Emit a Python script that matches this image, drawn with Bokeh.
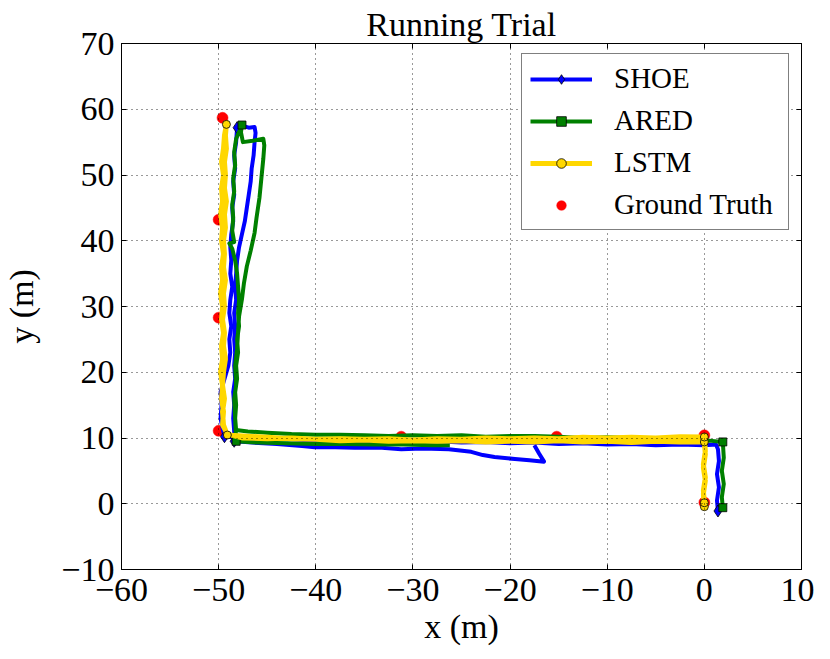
from bokeh.plotting import figure
from bokeh.models import FixedTicker, LinearAxis, Legend, LegendItem, Range1d
from bokeh.embed import file_html
from bokeh.resources import INLINE

# ---------------- data (metres) ----------------
title_text = "Running Trial"
x_label = "x (m)"
y_label = "y (m)"
x_ticks = [-60, -50, -40, -30, -20, -10, 0, 10]
x_tick_labels = ["\u221260", "\u221250", "\u221240", "\u221230", "\u221220", "\u221210", "0", "10"]
y_ticks = [-10, 0, 10, 20, 30, 40, 50, 60, 70]
y_tick_labels = ["\u221210", "0", "10", "20", "30", "40", "50", "60", "70"]

# SHOE trajectory
shoe_x = [1.4, 1.3, 1.5, 1.3, 1.5, 1.4, 1.2,
          0.0, -2.5, -5.0, -7.5, -10.0, -12.5, -15.0, -17.5, -20.0, -22.5, -25.0, -27.5, -30.0,
          -32.5, -35.0, -37.5, -40.0, -42.5, -45.0, -47.0, -49.4,
          -49.6, -49.8, -49.7, -49.8, -49.4, -49.0, -48.8, -48.9, -48.7, -48.9, -48.8, -48.6,
          -48.8, -48.7, -48.8, -48.7, -48.5, -48.6, -48.4, -48.5, -48.3, -48.4, -48.2, -48.1,
          -47.6, -46.9, -46.3, -46.2,
          -46.3, -46.4, -46.6, -46.7, -46.9, -47.1, -47.3, -47.6, -47.9, -48.1, -48.2, -48.3,
          -48.2, -48.4, -48.3, -48.4, -48.3, -48.4, -48.3, -48.5, -48.4, -48.5, -48.4, -48.4,
          -46.5, -44.0, -41.4, -40.1, -38.0, -36.0, -33.2, -31.2, -29.0, -26.3, -24.0, -22.8,
          -21.6, -19.5, -18.0, -16.5, -17.0, -17.5]
shoe_y = [-1.1, 0.5, 2.5, 4.5, 6.5, 8.3, 9.0,
          8.9, 9.0, 8.9, 9.1, 9.0, 9.2, 9.1, 9.3, 9.2, 9.4, 9.3, 9.5, 9.4,
          9.6, 9.5, 9.7, 9.6, 9.8, 9.9, 10.0, 10.2,
          11.5, 13.0, 15.0, 17.0, 19.0, 21.0, 23.0, 25.0, 27.0, 29.0, 31.0, 33.0,
          35.0, 37.0, 39.0, 41.0, 43.0, 45.0, 47.0, 49.0, 51.0, 53.0, 55.0, 57.2,
          57.5, 57.2, 57.3, 56.4,
          55.0, 53.0, 51.0, 49.0, 47.0, 45.0, 43.0, 41.0, 39.0, 37.0, 35.0, 33.0,
          31.0, 29.0, 27.0, 25.0, 23.0, 21.0, 19.0, 17.0, 15.0, 13.0, 11.0, 9.5,
          9.3, 9.1, 8.8, 8.6, 8.6, 8.5, 8.5, 8.3, 8.4, 8.3, 7.9, 7.4,
          7.1, 6.8, 6.6, 6.4, 7.6, 8.9]
shoe_mark_x = [1.4, -49.4, -48.1, -48.4]
shoe_mark_y = [-1.1, 10.2, 57.2, 9.5]

# ARED trajectory
ared_x = [1.9, 1.8, 2.0, 1.8, 2.0, 1.9,
          0.5, -2.5, -5.0, -7.5, -10.0, -12.5, -15.0, -17.5, -20.0, -22.5, -25.0, -27.5, -30.0,
          -32.5, -35.0, -37.5, -40.0, -42.5, -45.0, -47.0, -48.2,
          -48.3, -48.2, -48.3, -48.1, -48.2, -48.0, -48.1, -47.9, -48.0, -47.9, -48.0, -48.1,
          -48.3, -48.6, -48.9, -48.4, -48.6, -48.5, -48.6, -48.4, -48.5, -48.3, -48.4, -48.2, -47.6,
          -47.7, -47.5, -46.5, -45.4, -45.3,
          -45.4, -45.6, -45.8, -46.1, -46.3, -46.7, -47.1, -47.4, -47.6, -47.9, -48.0, -48.1,
          -48.3, -48.2, -48.4, -48.3, -48.2,
          -46.0, -43.0, -40.0, -37.0, -34.0, -31.0, -28.0, -26.2]
ared_y = [-0.6, 1.0, 3.0, 5.0, 7.0, 9.4,
          9.6, 9.8, 9.9, 10.0, 10.1, 10.0, 10.2, 10.3, 10.3, 10.2, 10.4, 10.3, 10.4,
          10.3, 10.4, 10.5, 10.5, 10.6, 10.8, 11.0, 11.2,
          13.0, 15.0, 17.0, 19.0, 21.0, 23.0, 25.0, 27.0, 29.0, 31.0, 33.0, 35.0,
          37.0, 38.8, 39.6, 39.8, 41.5, 43.5, 45.5, 47.5, 49.5, 51.5, 53.5, 55.5, 57.6,
          56.5, 55.0, 55.2, 55.5, 54.5,
          52.5, 49.5, 46.5, 43.5, 41.2, 38.5, 36.1, 33.5, 31.1, 28.5, 26.1, 23.5,
          20.9, 18.0, 15.9, 13.0, 9.5,
          9.3, 9.2, 9.1, 9.1, 9.0, 9.0, 8.9, 8.9]
ared_mark_x = [1.9, 1.9, -47.6, -48.2]
ared_mark_y = [-0.6, 9.4, 57.6, 9.5]

# LSTM trajectory
lstm_x = [0.0, -0.1, 0.1, -0.1, 0.1, 0.0,
          -2.5, -5.0, -7.5, -10.0, -12.5, -15.0, -17.5, -20.0, -22.5, -25.0, -27.5, -30.0,
          -32.5, -35.0, -37.5, -40.0, -42.5, -45.0, -47.5, -49.1,
          -49.5, -49.6, -49.4, -49.6, -49.5, -49.3, -49.5, -49.4, -49.6, -49.4, -49.5, -49.3,
          -49.5, -49.4, -49.5, -49.3, -49.4, -49.2, -49.4, -49.3, -49.4, -49.2, -49.3, -49.2,
          -49.4, -49.5, -49.7, -49.5, -49.7, -49.6, -49.8, -49.6, -49.7, -49.5, -49.7, -49.6,
          -49.8, -49.6, -49.7, -49.5, -49.7, -49.6, -49.8, -49.6, -49.7, -49.5, -49.6, -49.1,
          -47.5, -45.0, -42.5, -40.0, -37.5, -35.0, -32.5, -30.0, -27.5, -25.0, -22.5, -20.0,
          -17.5, -15.0, -12.5, -10.0, -7.5, -5.0, -2.5, 0.0,
          0.1, -0.1, 0.1, -0.1, 0.0]
lstm_y = [-0.45, 1.5, 3.5, 5.5, 7.5, 9.4,
          9.4, 9.5, 9.3, 9.5, 9.4, 9.6, 9.4, 9.5, 9.4, 9.6, 9.5, 9.6,
          9.5, 9.7, 9.6, 9.8, 9.9, 10.1, 10.3, 10.45,
          12.0, 14.0, 16.0, 18.0, 20.0, 22.0, 24.0, 26.0, 28.0, 30.0, 32.0, 34.0,
          36.0, 38.0, 40.0, 42.0, 44.0, 46.0, 48.0, 50.0, 52.0, 54.0, 56.0, 57.7,
          56.0, 54.0, 52.0, 50.0, 48.0, 46.0, 44.0, 42.0, 40.0, 38.0, 36.0, 34.0,
          32.0, 30.0, 28.0, 26.0, 24.0, 22.0, 20.0, 18.0, 16.0, 14.0, 12.0, 10.6,
          10.0, 9.9, 10.0, 9.8, 9.9, 9.8, 9.9, 9.7, 9.9, 9.8, 10.0, 9.9,
          10.0, 9.9, 10.1, 10.0, 10.1, 10.0, 10.2, 10.15,
          8.0, 6.0, 4.0, 2.0, 0.15]
lstm_mark_x = [0.0, 0.0, -49.1, -49.2, 0.0, 0.0]
lstm_mark_y = [-0.45, 9.4, 10.45, 57.7, 10.15, 0.15]

# Ground truth checkpoints
gt_x = [0.0, 0.0, -15.2, -31.2, -50.0, -50.0, -50.0, -49.6]
gt_y = [0.2, 10.4, 10.2, 10.2, 11.1, 28.3, 43.2, 58.7]

# ---------------- styling ----------------
FONT = "Liberation Serif"
BLUE = "#0000ff"
GREEN = "#008000"
GOLD = "#ffd700"
RED = "#ff0000"

p = figure(width=814, height=647,
           x_range=Range1d(-60, 10), y_range=Range1d(-10, 70),
           output_backend="svg", toolbar_location=None,
           min_border_left=119, min_border_right=13,
           min_border_top=43, min_border_bottom=76)

p.title.text = title_text
p.title.align = "center"
p.title.text_font = FONT
p.title.text_font_size = "34px"
p.title.text_font_style = "normal"
p.title.text_color = "black"
p.title.standoff = 2

p.background_fill_color = "white"
p.border_fill_color = "white"
p.outline_line_color = "black"
p.outline_line_width = 1

def style_axis(ax, ticks, labels, show_labels):
    ax.ticker = FixedTicker(ticks=ticks)
    ax.axis_line_color = "black"
    ax.axis_line_width = 1
    ax.major_tick_line_color = "black"
    ax.major_tick_in = 5
    ax.major_tick_out = 0
    ax.minor_tick_line_color = None
    if show_labels:
        ax.major_label_overrides = {t: l for t, l in zip(ticks, labels)}
        ax.major_label_text_font = FONT
        ax.major_label_text_font_size = "34px"
        ax.major_label_text_color = "black"
        ax.major_label_standoff = 4
        ax.axis_label_text_font = FONT
        ax.axis_label_text_font_size = "34px"
        ax.axis_label_text_font_style = "normal"
        ax.axis_label_text_color = "black"
    else:
        ax.major_label_text_font_size = "1px"
        ax.major_label_text_color = None
        ax.major_label_standoff = 0

xa = p.xaxis[0]
ya = p.yaxis[0]
xa.axis_label = x_label
ya.axis_label = y_label
style_axis(xa, x_ticks, x_tick_labels, True)
style_axis(ya, y_ticks, y_tick_labels, True)
xa.major_label_standoff = 9
xa.axis_label_standoff = 4
ya.major_label_standoff = 7
ya.axis_label_standoff = 18

top_ax = LinearAxis()
style_axis(top_ax, x_ticks, x_tick_labels, False)
right_ax = LinearAxis()
style_axis(right_ax, y_ticks, y_tick_labels, False)
p.add_layout(top_ax, "above")
p.add_layout(right_ax, "right")

for g, t in ((p.xgrid[0], x_ticks), (p.ygrid[0], y_ticks)):
    g.ticker = FixedTicker(ticks=t)
    g.grid_line_color = "black"
    g.grid_line_alpha = 0.8
    g.grid_line_width = 1
    g.grid_line_dash = "1 4"
    g.level = "guide"

# ground truth below the lines
gt_r = p.scatter(gt_x, gt_y, size=11, marker="circle",
                 fill_color=RED, line_color=RED, line_width=0.5)

shoe_l = p.line(shoe_x, shoe_y, line_color=BLUE, line_width=4, line_join="round")
shoe_m = p.scatter(shoe_mark_x, shoe_mark_y, marker="diamond", size=12,
                   fill_color=BLUE, line_color="black", line_width=0.8)
ared_l = p.line(ared_x, ared_y, line_color=GREEN, line_width=4, line_join="round")
ared_m = p.scatter(ared_mark_x, ared_mark_y, marker="square", size=8,
                   fill_color=GREEN, line_color="black", line_width=0.8)
lstm_l = p.line(lstm_x, lstm_y, line_color=GOLD, line_width=5, line_join="round")
lstm_m = p.scatter(lstm_mark_x, lstm_mark_y, marker="circle", size=8,
                   fill_color=GOLD, line_color="black", line_width=0.8)

legend = Legend(items=[
    LegendItem(label="SHOE", renderers=[shoe_l, shoe_m]),
    LegendItem(label="ARED", renderers=[ared_l, ared_m]),
    LegendItem(label="LSTM", renderers=[lstm_l, lstm_m]),
    LegendItem(label="Ground Truth", renderers=[gt_r]),
], location=(400, 339))
legend.label_text_font = FONT
legend.label_text_font_size = "29px"
legend.label_text_color = "black"
legend.glyph_width = 62
legend.glyph_height = 24
legend.label_height = 24
legend.label_width = 166
legend.label_standoff = 22
legend.spacing = 9
legend.padding = 8
legend.margin = 0
legend.border_line_color = "black"
legend.border_line_width = 1
legend.background_fill_color = "white"
legend.background_fill_alpha = 1
p.add_layout(legend)

open("out.html", "w").write(file_html(p, INLINE))
